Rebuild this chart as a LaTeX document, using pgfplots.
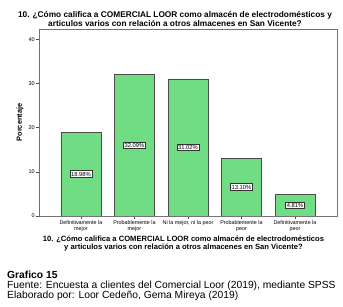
\documentclass[border=0pt]{standalone}
\usepackage{pgfplots}
\pgfplotsset{compat=1.18}
\usepackage{fontspec}
\setmainfont{Liberation Sans}
\definecolor{bargreen}{RGB}{112,221,132}
\begin{document}
\begin{tikzpicture}
\useasboundingbox (0,0) rectangle (343pt,-307pt);
\begin{axis}[
  at={(39pt,-216pt)}, anchor=south west,
  scale only axis, width=298pt, height=187pt,
  xmin=0.215, xmax=5.785, ymin=0, ymax=42.3,
  axis line style={draw=black!55},
  ytick={0,10,20,30,40},
  xtick={1,2,3,4,5},
  xticklabels={{Definitivamente la\\mejor},{Probablemente la\\mejor},{Ni la mejor, ni la peor},{Probablemente la\\peor},{Definitivamente la\\peor}},
  xticklabel style={align=center, font=\fontsize{5.4}{6}\selectfont, inner sep=1pt},
  yticklabel style={font=\fontsize{5.5}{6}\selectfont, inner sep=1pt},
  /pgf/number format/assume math mode=true,
  tick align=outside, major tick length=3pt,
  tick style={draw=black!70},
  xtick pos=bottom, ytick pos=left,
  ylabel={\bfseries Porcentaje},
  ylabel style={font=\fontsize{7.4}{8}\selectfont, at={(axis description cs:-0.064,0.5)}, anchor=center},
  ybar, bar width=40pt,
  nodes near coords={\pgfmathprintnumber[fixed,fixed zerofill,precision=2]{\pgfplotspointmeta}\%},
  visualization depends on={rawy \as \rawy},
  every node near coord/.append style={anchor=center, yshift={-\rawy*4.4208pt/2}, draw=black!80, fill=white, inner sep=1.2pt, line width=0.6pt, font=\fontsize{5.8}{6.5}\selectfont},
]
\addplot[fill=bargreen, draw=black!70, line width=0.6pt] coordinates {(1,18.98) (2,32.09) (3,31.02) (4,13.10) (5,4.81)};
\end{axis}
\node[align=center, font=\fontsize{8.3}{9}\selectfont\bfseries] at (175pt,-19pt) {10. ¿Cómo califica a COMERCIAL LOOR como almacén de electrodomésticos y\\articulos varios con relación a otros almacenes en San Vicente?};
\node[align=center, font=\fontsize{7.6}{8.8}\selectfont\bfseries] at (183.5pt,-243.5pt) {10. ¿Cómo califica a COMERCIAL LOOR como almacén de electrodomésticos\\y articulos varios con relación a otros almacenes en San Vicente?};
\node[align=left, anchor=north west, inner sep=0pt, font=\fontsize{10.3}{10.4}\selectfont] at (7pt,-270.5pt) {\textbf{Grafico 15}\\Fuente: Encuesta a clientes del Comercial Loor (2019), mediante SPSS\\Elaborado por: Loor Cedeño, Gema Mireya (2019)};
\end{tikzpicture}
\end{document}
